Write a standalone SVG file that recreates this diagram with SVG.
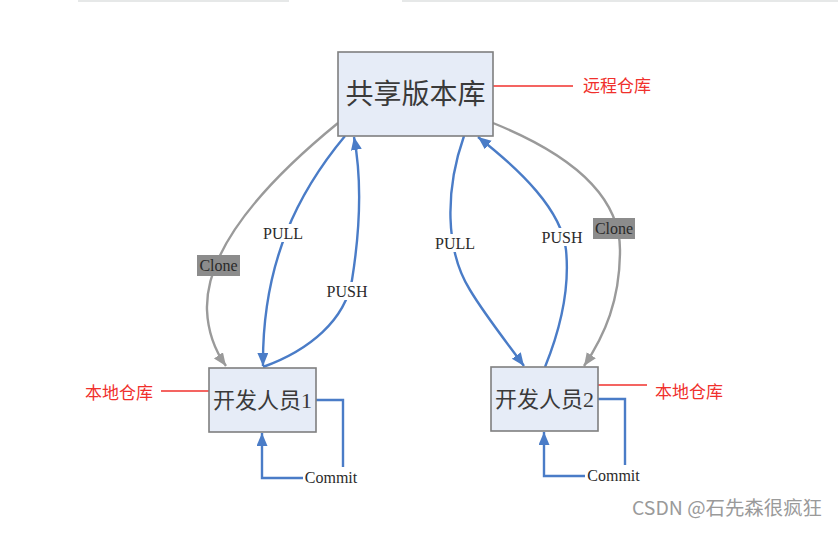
<svg xmlns="http://www.w3.org/2000/svg" width="838" height="534" viewBox="0 0 838 534">
<style>
.box{fill:#e6ecf7;stroke:#7f7f7f;stroke-width:1.6}
.cjk{font-family:"Liberation Serif","Noto Sans CJK SC",serif;fill:#3a3a3a;text-anchor:middle}
.red{font-family:"Noto Sans CJK SC",sans-serif;fill:#f0302c;font-size:17px}
.rl{stroke:#f0302c;stroke-width:1.4;fill:none}
.blue{stroke:#4a7cc7;stroke-width:2.4;fill:none}
.gray{stroke:#9a9a9a;stroke-width:2.4;fill:none}
.lbl{font-family:"Liberation Serif",serif;font-size:16px;fill:#2a2a2a;text-anchor:middle}
.wm{font-family:"Noto Sans CJK SC",sans-serif;font-size:19px;fill:#9a9a9a}
</style>
<defs>
<marker id="ab" markerUnits="userSpaceOnUse" markerWidth="14" markerHeight="12" refX="13" refY="5.5" orient="auto"><path d="M0,0 L13,5.5 L0,11 z" fill="#4a7cc7"/></marker>
<marker id="ag" markerUnits="userSpaceOnUse" markerWidth="14" markerHeight="12" refX="13" refY="5.5" orient="auto"><path d="M0,0 L13,5.5 L0,11 z" fill="#9a9a9a"/></marker>
</defs>
<rect x="0" y="0" width="838" height="534" fill="#ffffff"/>
<rect x="78" y="0" width="211" height="2" fill="#e6e8e8"/>
<rect x="402" y="0" width="436" height="2" fill="#e6e8e8"/>

<g id="connectors">
<path class="gray" d="M338,123 C262,185 205,250 207,310 C208,335 216,352 226,366" marker-end="url(#ag)"/>
<path class="blue" d="M345,136 C300,190 262,260 263,366" marker-end="url(#ab)"/>
<path class="blue" d="M263,367 C310,350 345,320 352,280 C360,230 362,180 354,137" marker-end="url(#ab)"/>
<path class="blue" d="M464,136 C445,190 445,250 470,290 C485,315 505,340 524,366" marker-end="url(#ab)"/>
<path class="blue" d="M545,367 C560,330 570,290 566,250 C562,210 520,170 478,137" marker-end="url(#ab)"/>
<path class="gray" d="M493,123 C560,150 620,190 620,250 C620,300 605,335 584,366" marker-end="url(#ag)"/>
<polyline class="blue" points="316,400 343,400 343,467"/>
<path class="blue" d="M303,478 L262,478 L262,433" marker-end="url(#ab)"/>
<polyline class="blue" points="598,399 625,399 625,465"/>
<path class="blue" d="M585,476 L544,476 L544,432" marker-end="url(#ab)"/>
<line class="rl" x1="493" y1="86" x2="573" y2="86"/>
<line class="rl" x1="161" y1="391" x2="209" y2="391"/>
<line class="rl" x1="598" y1="385" x2="647" y2="385"/>
</g>

<g id="labels">
<rect x="262" y="224" width="42" height="18" fill="#fff"/>
<text class="lbl" x="283" y="239">PULL</text>
<rect x="325" y="282" width="44" height="18" fill="#fff"/>
<text class="lbl" x="347" y="297">PUSH</text>
<rect x="434" y="234" width="42" height="18" fill="#fff"/>
<text class="lbl" x="455" y="249">PULL</text>
<rect x="540" y="228" width="44" height="18" fill="#fff"/>
<text class="lbl" x="562" y="243">PUSH</text>
<rect x="197" y="255" width="43" height="21" fill="#8c8c8c"/>
<text class="lbl" x="218.5" y="271">Clone</text>
<rect x="593" y="218" width="42" height="21" fill="#8c8c8c"/>
<text class="lbl" x="614" y="234">Clone</text>
<text class="lbl" x="331" y="483">Commit</text>
<text class="lbl" x="613.5" y="481">Commit</text>
</g>

<g id="remote">
<rect class="box" x="338" y="52" width="155" height="84"/>
<text class="cjk" x="415.5" y="104" font-size="28">共享版本库</text>
</g>
<g id="dev1">
<rect class="box" x="209" y="368" width="107" height="64"/>
<text class="cjk" x="262.5" y="408" font-size="22">开发人员1</text>
</g>
<g id="dev2">
<rect class="box" x="491" y="367" width="107" height="64"/>
<text class="cjk" x="544.5" y="407" font-size="22">开发人员2</text>
</g>

<g id="annotations">
<text class="red" x="583" y="92">远程仓库</text>
<text class="red" x="85" y="399">本地仓库</text>
<text class="red" x="655" y="398">本地仓库</text>
</g>
<text class="wm" x="632" y="515" textLength="190" lengthAdjust="spacingAndGlyphs">CSDN @石先森很疯狂</text>
</svg>
